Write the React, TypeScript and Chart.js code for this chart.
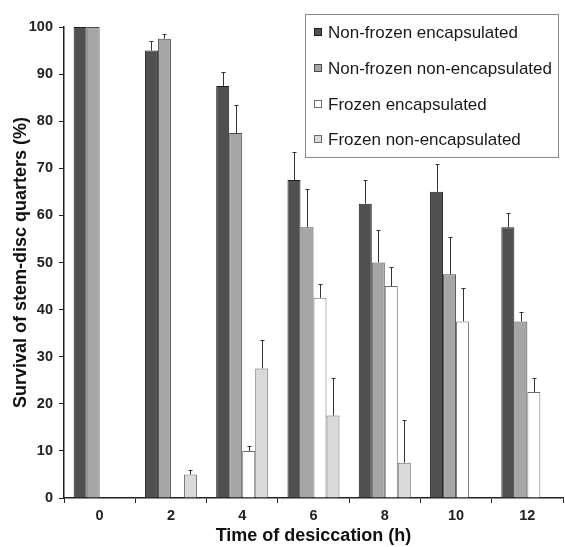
import React, { useEffect, useRef } from "react";
import { Chart, registerables } from "chart.js";

Chart.register(...registerables);

const categories = ["0", "2", "4", "6", "8", "10", "12"];
const seriesNames = [
  "Non-frozen encapsulated",
  "Non-frozen non-encapsulated",
  "Frozen encapsulated",
  "Frozen non-encapsulated",
];
const nonFrozenEnc = [100, 95, 87.5, 67.5, 62.5, 65, 57.5];
const nonFrozenEncErr = [0, 2, 3, 6, 5, 6, 3];
const nonFrozenNonEnc = [100, 97.5, 77.5, 57.5, 50, 47.5, 37.5];
const nonFrozenNonEncErr = [0, 1, 6, 8, 7, 8, 2];
const frozenEnc = [0, 0, 10, 42.5, 45, 37.5, 22.5];
const frozenEncErr = [0, 0, 1, 3, 4, 7, 3];
const frozenNonEnc = [0, 5, 27.5, 17.5, 7.5, 0, 0];
const frozenNonEncErr = [0, 1, 6, 8, 9, 0, 0];
const yTickValues = [0, 10, 20, 30, 40, 50, 60, 70, 80, 90, 100];

const fills = ["#505050", "#a6a6a6", "#ffffff", "#dadada"];
const borders = ["#1e1e1e", "#4a4a4a", "#6e6e6e", "#6e6e6e"];
const errors = [nonFrozenEncErr, nonFrozenNonEncErr, frozenEncErr, frozenNonEncErr];
const values = [nonFrozenEnc, nonFrozenNonEnc, frozenEnc, frozenNonEnc];

const errorBarPlugin = {
  id: "errorBars",
  afterDatasetsDraw(chart: any) {
    const ctx = chart.ctx;
    const yScale = chart.scales.y;
    ctx.save();
    ctx.strokeStyle = "#333333";
    ctx.lineWidth = 1;
    chart.data.datasets.forEach((ds: any, i: number) => {
      const meta = chart.getDatasetMeta(i);
      meta.data.forEach((bar: any, j: number) => {
        const err = ds.errors[j];
        if (!err) return;
        const v = ds.data[j];
        const x = Math.round(bar.x) + 0.5;
        const y0 = yScale.getPixelForValue(v);
        const y1 = Math.round(yScale.getPixelForValue(v + err)) + 0.5;
        ctx.beginPath();
        ctx.moveTo(x, y0);
        ctx.lineTo(x, y1);
        ctx.moveTo(x - 2, y1);
        ctx.lineTo(x + 2, y1);
        ctx.stroke();
      });
    });
    ctx.restore();
  },
};

const legendPlugin = {
  id: "boxLegend",
  afterDraw(chart: any) {
    const ctx = chart.ctx;
    ctx.save();
    ctx.fillStyle = "#ffffff";
    ctx.fillRect(305, 14, 253, 143);
    ctx.strokeStyle = "#8a8a8a";
    ctx.lineWidth = 1;
    ctx.strokeRect(305.5, 14.5, 253, 143);
    const rowsY = [32, 68, 104, 139];
    ctx.font = "17px Arial, 'Liberation Sans', sans-serif";
    ctx.textBaseline = "middle";
    ctx.textAlign = "left";
    seriesNames.forEach((name, i) => {
      const y = rowsY[i];
      ctx.fillStyle = fills[i];
      ctx.fillRect(314, y - 4, 8, 8);
      ctx.strokeStyle = borders[i];
      ctx.strokeRect(314.5, y - 3.5, 7, 7);
      ctx.fillStyle = "#1a1a1a";
      ctx.fillText(name, 328, y + 1);
    });
    ctx.restore();
  },
};

export default function App() {
  const canvasRef = useRef<HTMLCanvasElement | null>(null);

  useEffect(() => {
    if (!canvasRef.current) return;
    const tickFont = { family: "Arial, 'Liberation Sans', sans-serif", size: 14.5, weight: "bold" as const };
    const titleFont = { family: "Arial, 'Liberation Sans', sans-serif", size: 18, weight: "bold" as const };
    const chart = new Chart(canvasRef.current, {
      type: "bar",
      data: {
        labels: categories,
        datasets: seriesNames.map((name, i) => ({
          label: name,
          data: values[i],
          errors: errors[i],
          backgroundColor: fills[i],
          borderColor: borders[i],
          borderWidth: 1,
          categoryPercentage: 0.73,
          barPercentage: 1,
        })) as any,
      },
      options: {
        animation: false,
        responsive: false,
        layout: { padding: { top: 27, right: 2, left: 0, bottom: 0 } },
        plugins: {
          legend: { display: false },
          tooltip: { enabled: false },
        },
        scales: {
          x: {
            grid: {
              offset: true,
              drawOnChartArea: false,
              drawTicks: true,
              tickLength: 5,
              color: "#222222",
            },
            border: { color: "#222222", width: 1.5 },
            ticks: { color: "#222222", font: tickFont, padding: 4 },
            title: {
              display: true,
              text: "Time of desiccation (h)",
              color: "#111111",
              font: titleFont,
              padding: { top: 0, bottom: 0 },
            },
            afterFit(scale: any) {
              scale.height = 49;
            },
          },
          y: {
            min: 0,
            max: 100,
            afterBuildTicks(scale: any) {
              scale.ticks = yTickValues.map((v) => ({ value: v }));
            },
            grid: {
              drawOnChartArea: false,
              drawTicks: true,
              tickLength: 5,
              color: "#222222",
            },
            border: { color: "#222222", width: 1.5 },
            ticks: { color: "#222222", font: tickFont, padding: 6 },
            title: {
              display: true,
              text: "Survival of stem-disc quarters (%)",
              color: "#111111",
              font: titleFont,
              padding: { top: 10, bottom: 0 },
            },
            afterFit(scale: any) {
              scale.width = 64;
            },
          },
        },
      } as any,
      plugins: [errorBarPlugin, legendPlugin],
    });
    return () => chart.destroy();
  }, []);

  return (
    <div style={{ position: "absolute", left: 0, top: 0, width: 565, height: 547, background: "#fff" }}>
      <canvas ref={canvasRef} width={565} height={547} style={{ display: "block" }} />
    </div>
  );
}
